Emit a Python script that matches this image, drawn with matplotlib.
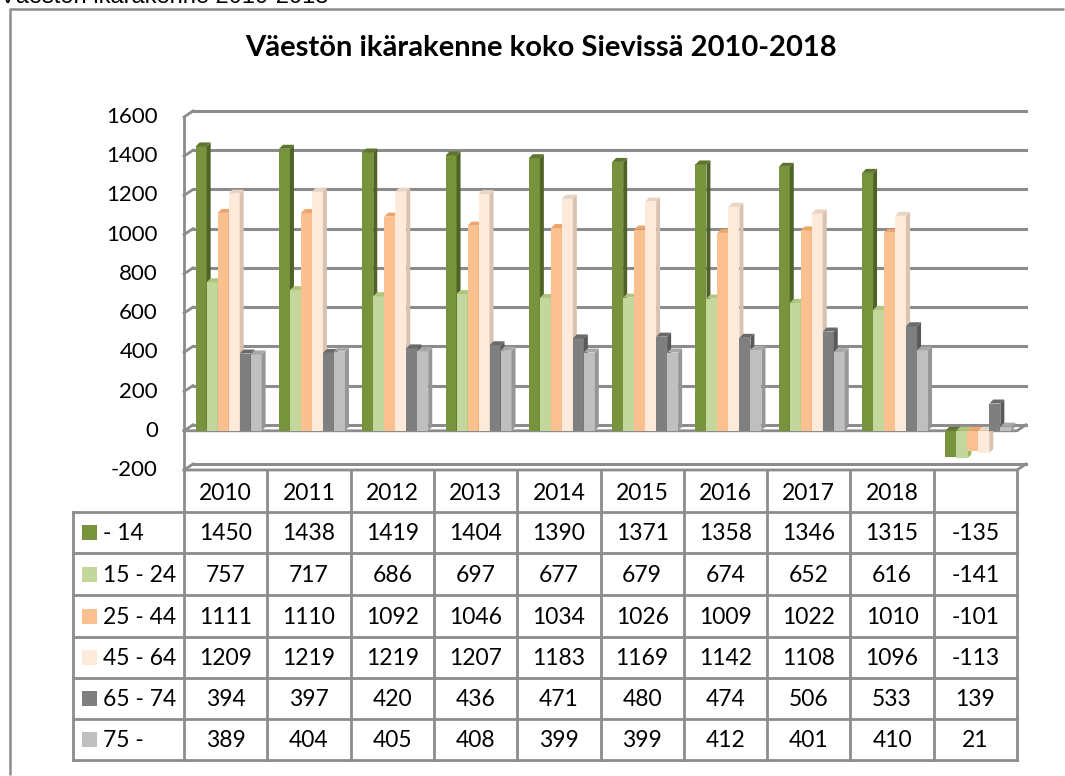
import matplotlib
matplotlib.use("Agg")
import matplotlib.pyplot as plt
from matplotlib.patches import Rectangle, Polygon
import numpy as np

# data
years = ["2010", "2011", "2012", "2013", "2014", "2015", "2016", "2017", "2018", ""]
groups = ["- 14", "15 - 24", "25 - 44", "45 - 64", "65 - 74", "75 -"]
v_0_14 = [1450, 1438, 1419, 1404, 1390, 1371, 1358, 1346, 1315, -135]
v_15_24 = [757, 717, 686, 697, 677, 679, 674, 652, 616, -141]
v_25_44 = [1111, 1110, 1092, 1046, 1034, 1026, 1009, 1022, 1010, -101]
v_45_64 = [1209, 1219, 1219, 1207, 1183, 1169, 1142, 1108, 1096, -113]
v_65_74 = [394, 397, 420, 436, 471, 480, 474, 506, 533, 139]
v_75 = [389, 404, 405, 408, 399, 399, 412, 401, 410, 21]
series = [v_0_14, v_15_24, v_25_44, v_45_64, v_65_74, v_75]
yticks = [-200, 0, 200, 400, 600, 800, 1000, 1200, 1400, 1600]

front = ["#77933C", "#C3D69B", "#FAC090", "#FDEADA", "#7F7F7F", "#BFBFBF"]
side = ["#4F6228", "#9BBB59", "#E09A5E", "#D9C3B0", "#595959", "#969696"]
top = ["#5E7530", "#AFC57E", "#EBA66C", "#E8D4C3", "#6A6A6A", "#A8A8A8"]
grid_c = "#8C8C8C"

W, H = 1065, 776
fig = plt.figure(figsize=(W / 100, H / 100), dpi=100)

# pixel overlay for frame, labels and table
pix = fig.add_axes([0, 0, 1, 1])
pix.set_xlim(0, W)
pix.set_ylim(H, 0)
pix.axis("off")

# chart frame (only top and left edges fall inside the picture)
pix.plot([10, 10, W - 1], [H - 1, 9, 9], color="#8C8C8C", lw=1.8,
         solid_capstyle="butt")
pix.text(0, 3, "Väestön ikärakenne 2010-2018", fontsize=17, family="Liberation Sans",
         ha="left", va="baseline")
pix.text(541, 48, "Väestön ikärakenne koko Sievissä 2010-2018", fontsize=21,
         fontweight="bold", family="Lato", ha="center", va="center")

# main plot area
ax_l, ax_r, ax_t, ax_b = 184, 1017, 117, 470
ax = fig.add_axes([ax_l / W, (H - ax_b) / H, (ax_r - ax_l) / W, (ax_b - ax_t) / H])
ax.set_xlim(-0.5, len(years) - 0.5)
ax.set_ylim(yticks[0], yticks[-1])
ax.axis("off")

px_x = (ax_r - ax_l) / len(years)
px_y = (ax_b - ax_t) / (yticks[-1] - yticks[0])
bx, by = 9 / px_x, 6 / px_y      # back wall offset
dx, dy = 4 / px_x, 4 / px_y      # bar depth

x0, x1 = -0.5, len(years) - 0.5
for t in yticks:
    ax.plot([x0, x0 + bx], [t, t + by], color=grid_c, lw=2, clip_on=False, zorder=1)
    ax.plot([x0 + bx, x1 + bx], [t + by, t + by], color=grid_c, lw=2.2, clip_on=False, zorder=1)
    pix.text(158, ax_b - (t - yticks[0]) * px_y, str(t), fontsize=16, family="Lato",
             ha="right", va="center")
ax.plot([x0, x0], [yticks[0], yticks[-1]], color=grid_c, lw=2, clip_on=False, zorder=1)
for base in [0, yticks[0]]:
    ax.plot([x0, x1, x1 + bx], [base, base, base + by], color=grid_c, lw=2,
            clip_on=False, zorder=4)

bw = 0.132
for i in range(len(years)):
    for k, vals in enumerate(series):
        v = vals[i]
        left = i - 0.36 + k * bw
        hi = max(v, 0)
        lo = min(v, 0)
        ax.add_patch(Rectangle((left, lo), bw, hi - lo, fc=front[k], ec="none", zorder=5))
        ax.add_patch(Polygon([(left + bw, lo), (left + bw + dx, lo + dy),
                              (left + bw + dx, hi + dy), (left + bw, hi)],
                             closed=True, fc=side[k], ec="none", zorder=5))
        ax.add_patch(Polygon([(left, hi), (left + dx, hi + dy),
                              (left + bw + dx, hi + dy), (left + bw, hi)],
                             closed=True, fc=top[k], ec="none", zorder=5))

# data table
col_w = px_x
row_top = [470, 512, 553, 595, 637, 678, 719, 760]
leg_l = 73
lc = "#8C8C8C"
for j in range(len(years) + 1):
    xx = ax_l + j * col_w
    pix.plot([xx, xx], [row_top[0], row_top[-1]], color=lc, lw=2)
pix.plot([leg_l, leg_l], [row_top[1], row_top[-1]], color=lc, lw=2)
for r in row_top[1:]:
    pix.plot([leg_l, ax_r], [r, r], color=lc, lw=2)
for j, yr in enumerate(years):
    pix.text(ax_l + (j + 0.5) * col_w, (row_top[0] + row_top[1]) / 2 + 2, yr,
             fontsize=16.5, family="Lato", ha="center", va="center")
for k, (g, vals) in enumerate(zip(groups, series)):
    yc = (row_top[k + 1] + row_top[k + 2]) / 2
    pix.add_patch(Rectangle((82, yc - 7.5), 15, 15, fc=front[k], ec="none"))
    pix.text(103, yc + 1, g, fontsize=16.5, family="Lato", ha="left", va="center")
    for j, v in enumerate(vals):
        pix.text(ax_l + (j + 0.5) * col_w, yc + 1, str(v), fontsize=16.5, family="Lato",
                 ha="center", va="center")

fig.savefig("out.png", dpi=100)
